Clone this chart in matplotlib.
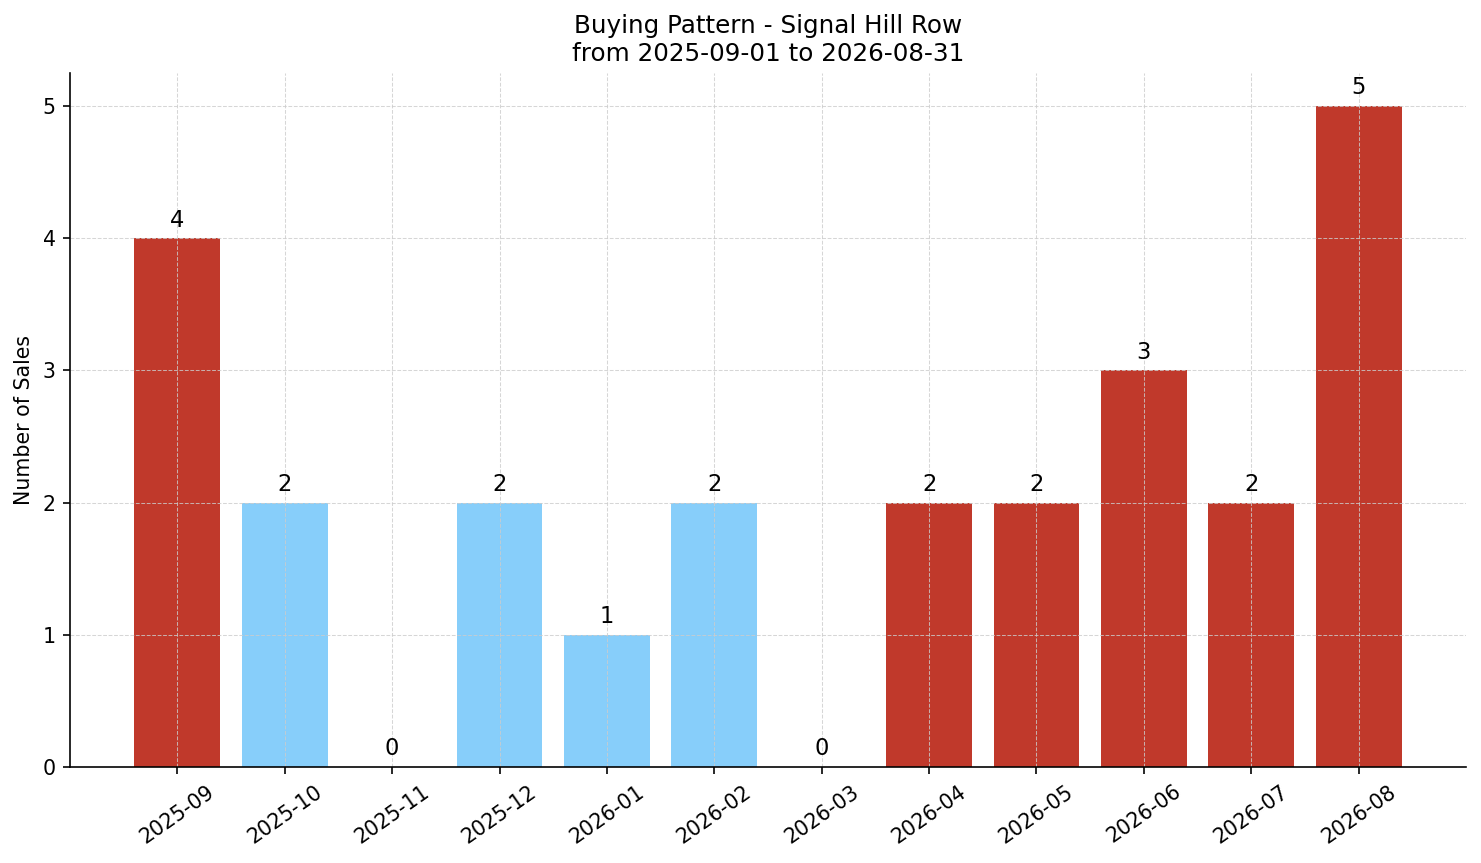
import matplotlib
matplotlib.use("Agg")
import matplotlib.pyplot as plt

months = ["2025-09", "2025-10", "2025-11", "2025-12", "2026-01", "2026-02",
          "2026-03", "2026-04", "2026-05", "2026-06", "2026-07", "2026-08"]
sales = [4, 2, 0, 2, 1, 2, 0, 2, 2, 3, 2, 5]
colors = ["#c0392b", "#87cefa", "#87cefa", "#87cefa", "#87cefa", "#87cefa",
          "#87cefa", "#c0392b", "#c0392b", "#c0392b", "#c0392b", "#c0392b"]

DPI = 148
fig, ax = plt.subplots(figsize=(1481 / DPI, 863 / DPI), dpi=DPI)
fig.subplots_adjust(left=70 / 1481, right=1466 / 1481, top=1 - 73 / 863, bottom=1 - 767 / 863)
x = list(range(len(months)))
ax.bar(x, sales, color=colors, width=0.8)
for xi, v in zip(x, sales):
    ax.text(xi, v + 0.05, str(v), ha="center", va="bottom", fontsize=11)
ax.set_xticks(x)
ax.set_xticklabels(months, rotation=35)
ax.set_xlim(-1, 12)
ax.set_ylim(0, 5.25)
ax.set_ylabel("Number of Sales")
ax.set_title("Buying Pattern - Signal Hill Row\nfrom 2025-09-01 to 2026-08-31")
ax.grid(True, linestyle="--", color="#cccccc", alpha=0.8, linewidth=0.5)
ax.spines["top"].set_visible(False)
ax.spines["right"].set_visible(False)
fig.savefig("out.png", dpi=DPI)
